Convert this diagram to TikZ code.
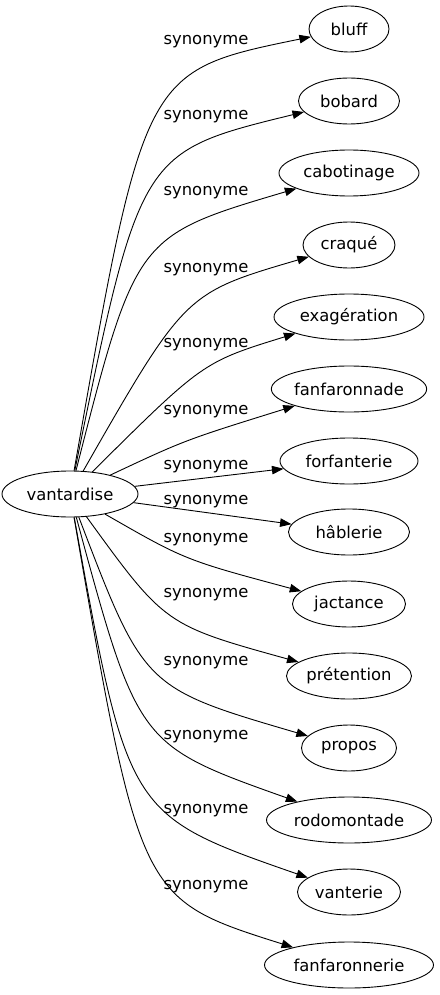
\documentclass[tikz,border=0pt]{standalone}
\usepackage{fontspec}
\setmainfont{DejaVu Sans}
\usetikzlibrary{shapes.geometric,arrows.meta}

\begin{document}
\begin{tikzpicture}[x=1pt, y=-1pt,
  mot/.style={draw, ellipse, line width=0.9pt, minimum height=46pt,
    inner xsep=0pt, inner ysep=0pt, font=\fontsize{16.4}{19}\selectfont},
  syn/.style={font=\fontsize{16.4}{19}\selectfont},
  lien/.style={line width=0.9pt, -{Triangle[length=11.5pt,width=8.5pt]}}]
  \useasboundingbox (0,0) rectangle (439,995);

  % Mot de depart
  \node[mot, minimum width=136pt] (vantardise) at (70,494) {vantardise};

  % Synonymes
  \node[mot, minimum width=80pt]  (bluff)         at (349,29)  {bluff};
  \node[mot, minimum width=101pt] (bobard)        at (349,101) {bobard};
  \node[mot, minimum width=140pt] (cabotinage)    at (349,173) {cabotinage};
  \node[mot, minimum width=92pt]  (craque)        at (349,245) {craqué};
  \node[mot, minimum width=150pt] (exageration)   at (349,317) {exagération};
  \node[mot, minimum width=152pt] (fanfaronnade)  at (349,389) {fanfaronnade};
  \node[mot, minimum width=138pt] (forfanterie)   at (349,461) {forfanterie};
  \node[mot, minimum width=121pt] (hablerie)      at (349,532) {hâblerie};
  \node[mot, minimum width=113pt] (jactance)      at (349,604) {jactance};
  \node[mot, minimum width=125pt] (pretention)    at (349,676) {prétention};
  \node[mot, minimum width=95pt]  (propos)        at (349,748) {propos};
  \node[mot, minimum width=165pt] (rodomontade)   at (349,820) {rodomontade};
  \node[mot, minimum width=103pt] (vanterie)      at (349,892) {vanterie};
  \node[mot, minimum width=169pt] (fanfaronnerie) at (349,965) {fanfaronnerie};

  % Liens
  \draw[lien] (vantardise) .. controls (144,71) .. (bluff);
  \draw[lien] (vantardise) .. controls (140,152) .. (bobard);
  \draw[lien] (vantardise) .. controls (136,236) .. (cabotinage);
  \draw[lien] (vantardise) .. controls (185,293) .. (craque);
  \draw[lien] (vantardise) .. controls (203,362) .. (exageration);
  \draw[lien] (vantardise) .. controls (185,440) .. (fanfaronnade);
  \draw[lien] (vantardise) -- (forfanterie);
  \draw[lien] (vantardise) -- (hablerie);
  \draw[lien] (vantardise) .. controls (185,560) .. (jactance);
  \draw[lien] (vantardise) .. controls (165,625) .. (pretention);
  \draw[lien] (vantardise) .. controls (144,688) .. (propos);
  \draw[lien] (vantardise) .. controls (138,745) .. (rodomontade);
  \draw[lien] (vantardise) .. controls (128,815) .. (vanterie);
  \draw[lien] (vantardise) .. controls (140,899) .. (fanfaronnerie);

  % Etiquettes
  \node[syn] (s1)  at (206,42)  {synonyme};
  \node[syn] (s2)  at (206,117) {synonyme};
  \node[syn] (s3)  at (206,193) {synonyme};
  \node[syn] (s4)  at (206,270) {synonyme};
  \node[syn] (s5)  at (206,345) {synonyme};
  \node[syn] (s6)  at (206,412) {synonyme};
  \node[syn] (s7)  at (206,467) {synonyme};
  \node[syn] (s8)  at (206,502) {synonyme};
  \node[syn] (s9)  at (206,540) {synonyme};
  \node[syn] (s10) at (206,595) {synonyme};
  \node[syn] (s11) at (206,663) {synonyme};
  \node[syn] (s12) at (206,737) {synonyme};
  \node[syn] (s13) at (206,811) {synonyme};
  \node[syn] (s14) at (206,887) {synonyme};
\end{tikzpicture}
\end{document}
